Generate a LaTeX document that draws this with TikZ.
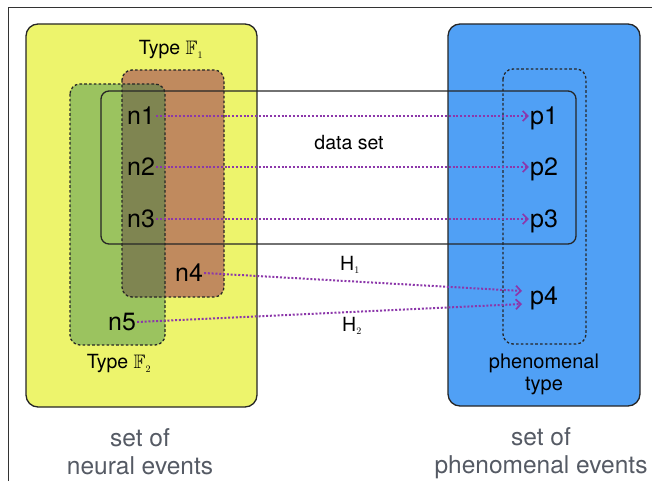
\documentclass[tikz,border=0pt]{standalone}
\usepackage{amssymb}
\usepackage{fontspec}
\setmainfont{TeX Gyre Heros}
\usetikzlibrary{arrows.meta}
\definecolor{yel}{RGB}{237,244,108}
\definecolor{blu}{RGB}{80,160,245}
\definecolor{grn}{RGB}{155,195,95}
\definecolor{org}{RGB}{192,138,94}
\definecolor{olv}{RGB}{127,133,81}
\definecolor{arr}{RGB}{140,55,170}
\definecolor{gtxt}{RGB}{85,90,100}
\tikzset{
  setbox/.style={draw=black!85, line width=1.3pt, rounded corners=12pt},
  typebox/.style={draw=black!85, line width=1.3pt, dash pattern=on 2.6pt off 2.2pt, rounded corners=10pt},
  ev/.style={font=\fontsize{25}{25}\selectfont, inner sep=1pt},
  lbl/.style={font=\fontsize{19.5}{21}\selectfont, inner sep=0pt},
  big/.style={font=\fontsize{24.5}{28}\selectfont, text=gtxt, align=center, inner sep=0pt},
  map/.style={draw=arr, line width=2pt, dash pattern=on 2pt off 1.8pt, -{Straight Barb[length=5pt,width=10pt,line width=1.7pt]}},
}
\begin{document}
\begin{tikzpicture}[x=1pt,y=-1pt]
\useasboundingbox (0,0) rectangle (652,481);
% frame
\draw[black!80, line width=1pt] (8,481) -- (8,8) -- (652,8);
% sets
\draw[setbox, fill=yel] (26,24) rectangle (257,407);
\draw[setbox, fill=blu] (448,24) rectangle (640,406);
% neural types
\fill[grn, rounded corners=10pt] (70,84) rectangle (165,345);
\fill[org, rounded corners=10pt] (122,70) rectangle (224,297);
\begin{scope}
  \clip[rounded corners=10pt] (70,84) rectangle (165,345);
  \fill[olv, rounded corners=10pt] (122,70) rectangle (224,297);
\end{scope}
\draw[typebox] (70,84) rectangle (165,345);
\draw[typebox] (122,70) rectangle (224,297);
% phenomenal type
\draw[typebox] (503,69) rectangle (586,344);
% data set
\draw[black!85, line width=1.3pt, rounded corners=8pt] (101,91) rectangle (576,244);
% labels
\node[lbl] (tf1) at (171,50) {Type $\mathbb{F}_{\scriptscriptstyle 1}$};
\node[lbl] (tf2) at (119,364) {Type $\mathbb{F}_{\scriptscriptstyle 2}$};
\node[lbl] (ds) at (349,143) {data set};
\node[lbl, align=center, font=\fontsize{20}{22}\selectfont] (pt) at (544,374) {phenomenal\\type};
\node[big] (sn) at (140,452) {set of\\neural events};
\node[big] (sp) at (541,453) {set of\\phenomenal events};
% events
\node[ev] (n1) at (141,116) {n1};
\node[ev] (n2) at (141,167) {n2};
\node[ev] (n3) at (141,219) {n3};
\node[ev] (n4) at (189,273) {n4};
\node[ev] (n5) at (122,322) {n5};
\node[ev] (p1) at (544,118) {p1};
\node[ev] (p2) at (544,169) {p2};
\node[ev] (p3) at (544,221) {p3};
\node[ev] (p4) at (544,298) {p4};
\coordinate (p4a) at (522,291);
\coordinate (p4b) at (522,304);
% mappings
\draw[map] (n1.east) -- (n1.east -| p1.west);
\draw[map] (n2.east) -- (n2.east -| p2.west);
\draw[map] (n3.east) -- (n3.east -| p3.west);
\draw[map] (n4.east) -- (p4a);
\draw[map] (n5.east) -- (p4b);
\node[lbl] (h1) at (350,265) {H$_{\scriptscriptstyle 1}$};
\node[lbl] (h2) at (352,326) {H$_{\scriptscriptstyle 2}$};
\end{tikzpicture}
\end{document}
